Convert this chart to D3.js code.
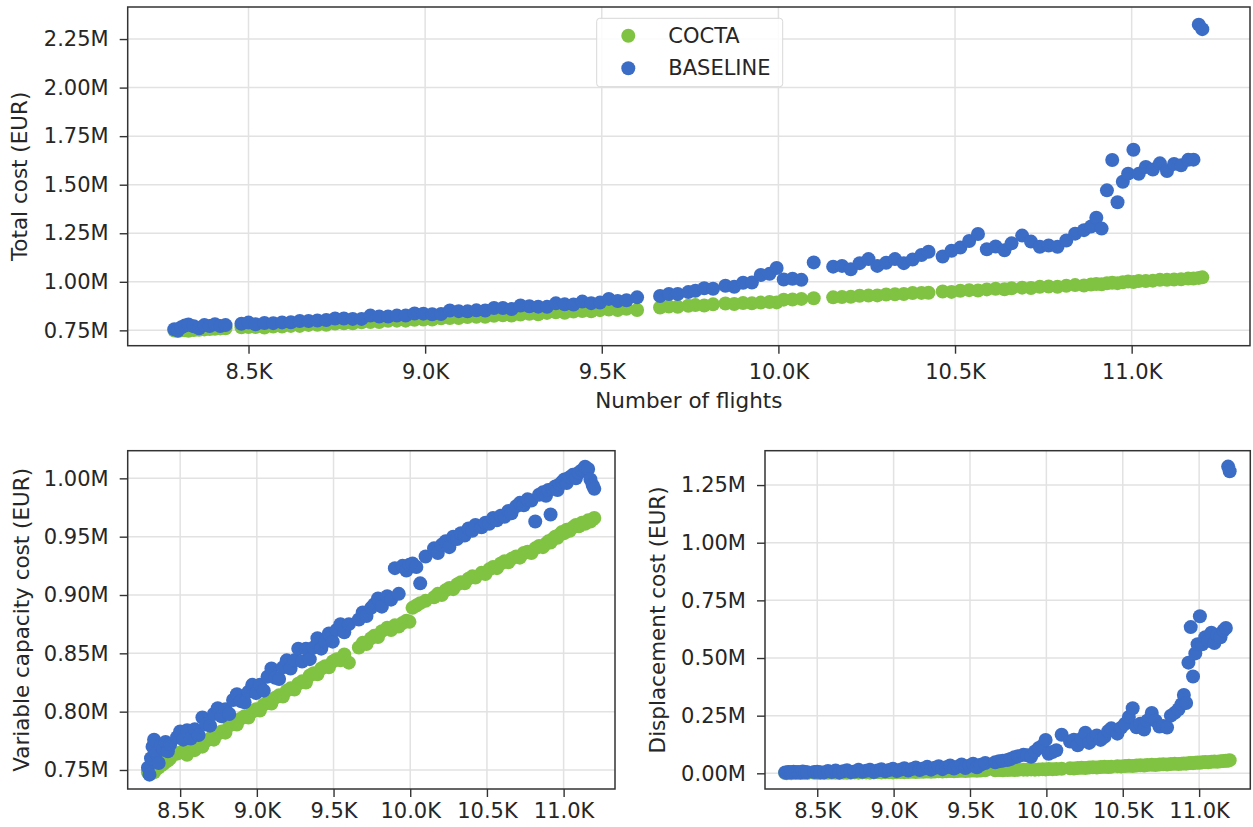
<!DOCTYPE html>
<html>
<head>
<meta charset="utf-8">
<script src="https://cdn.jsdelivr.net/npm/d3@7"></script>
<style>
  body { margin: 0; background: #fff; }
  svg { display: block; font-family: "DejaVu Sans", sans-serif; }
</style>
</head>
<body>
<div id="chart"></div>
<script>
// Number of flights per scenario (shared by both series and all three panels)
const flights = [
  8290, 8300, 8310, 8320, 8330, 8345, 8360, 8375, 8390, 8405, 8420, 8435,
  8480, 8500, 8520,
  8545, 8570, 8595, 8620, 8645, 8670, 8695, 8720, 8745, 8770, 8795, 8820, 8845, 8870, 8895,
  8920, 8945, 8970, 8995, 9020, 9045, 9070, 9095, 9120, 9145, 9170, 9195, 9220, 9245, 9270,
  9295, 9320, 9345, 9370, 9395, 9420, 9445, 9470, 9495, 9520, 9545, 9570, 9600,
  9665, 9690, 9715, 9745,
  9765, 9790, 9815, 9850,
  9875, 9900, 9925, 9950, 9975, 9995,
  10015, 10040, 10065, 10100,
  10155, 10180, 10205, 10230, 10255, 10280, 10305, 10330, 10355, 10380, 10405, 10425,
  10465, 10490, 10515, 10540, 10565, 10590, 10615, 10640, 10660,
  10690, 10715, 10740, 10765, 10790, 10815, 10840, 10865, 10885, 10900, 10915, 10930, 10945, 10960,
  10975, 10990, 11005, 11020, 11040, 11060, 11080, 11100, 11120, 11140, 11160, 11175, 11190, 11200
];

// Costs in million EUR
const coctaTotal = [
  0.749, 0.747, 0.750, 0.751, 0.748, 0.752, 0.753, 0.755, 0.757, 0.758, 0.760, 0.761,
  0.766, 0.767, 0.767,
  0.765, 0.770, 0.770, 0.773, 0.773, 0.778, 0.779, 0.779, 0.785, 0.786, 0.786, 0.792, 0.793, 0.793, 0.799,
  0.800, 0.800, 0.805, 0.806, 0.806, 0.812, 0.813, 0.813, 0.819, 0.820, 0.820, 0.825, 0.828, 0.826, 0.832,
  0.835, 0.833, 0.840, 0.843, 0.841, 0.847, 0.850, 0.848, 0.854, 0.857, 0.855, 0.861, 0.855,
  0.868, 0.873, 0.871, 0.877,
  0.880, 0.878, 0.884, 0.888,
  0.886, 0.891, 0.889, 0.893, 0.896, 0.894,
  0.908, 0.909, 0.912, 0.915,
  0.920, 0.922, 0.923, 0.928, 0.929, 0.930, 0.935, 0.936, 0.937, 0.942, 0.943, 0.944,
  0.950, 0.948, 0.954, 0.957, 0.955, 0.961, 0.964, 0.962, 0.967,
  0.970, 0.968, 0.974, 0.976, 0.974, 0.980, 0.983, 0.981, 0.986, 0.989, 0.987, 0.992, 0.995, 0.993,
  0.998, 1.001, 0.999, 1.004, 1.004, 1.006, 1.010, 1.010, 1.012, 1.013, 1.017, 1.017, 1.020, 1.023
];
const baselineTotal = [
  0.756, 0.749, 0.766, 0.775, 0.780, 0.771, 0.761, 0.777, 0.772, 0.782, 0.772, 0.777,
  0.784, 0.790, 0.781,
  0.788, 0.787, 0.791, 0.792, 0.798, 0.798, 0.801, 0.803, 0.811, 0.811, 0.809, 0.809, 0.826, 0.821, 0.821,
  0.826, 0.826, 0.837, 0.836, 0.833, 0.834, 0.852, 0.849, 0.848, 0.853, 0.852, 0.865, 0.865, 0.860, 0.878,
  0.874, 0.872, 0.871, 0.889, 0.884, 0.883, 0.898, 0.890, 0.893, 0.912, 0.901, 0.905, 0.920,
  0.927, 0.937, 0.937, 0.947,
  0.954, 0.967, 0.964, 0.980,
  0.974, 0.995, 0.996, 1.035, 1.041, 1.071,
  1.012, 1.016, 1.010, 1.100,
  1.078, 1.082, 1.065, 1.096, 1.117, 1.082, 1.098, 1.117, 1.096, 1.115, 1.138, 1.155,
  1.130, 1.160, 1.176, 1.210, 1.246, 1.168, 1.182, 1.162, 1.198,
  1.238, 1.207, 1.180, 1.187, 1.180, 1.213, 1.248, 1.266, 1.285, 1.330, 1.274, 1.471, 1.627, 1.410,
  1.515, 1.557, 1.680, 1.556, 1.591, 1.578, 1.610, 1.570, 1.607, 1.600, 1.628, 1.629, 2.324, 2.301
];

const coctaVar = [
  0.748, 0.747, 0.749, 0.750, 0.748, 0.751, 0.752, 0.754, 0.755, 0.757, 0.758, 0.760,
  0.764, 0.765, 0.766,
  0.763, 0.768, 0.767, 0.771, 0.770, 0.775, 0.777, 0.776, 0.781, 0.783, 0.782, 0.788, 0.790, 0.789, 0.794,
  0.796, 0.795, 0.800, 0.802, 0.801, 0.806, 0.808, 0.807, 0.812, 0.814, 0.813, 0.818, 0.820, 0.819, 0.824,
  0.826, 0.825, 0.831, 0.833, 0.832, 0.837, 0.839, 0.838, 0.843, 0.845, 0.844, 0.849, 0.842,
  0.855, 0.859, 0.858, 0.863,
  0.865, 0.864, 0.869, 0.872,
  0.870, 0.874, 0.873, 0.876, 0.878, 0.877,
  0.889, 0.891, 0.893, 0.895,
  0.898, 0.901, 0.900, 0.904, 0.906, 0.905, 0.909, 0.911, 0.910, 0.914, 0.916, 0.915,
  0.919, 0.918, 0.922, 0.924, 0.923, 0.927, 0.929, 0.928, 0.931,
  0.933, 0.932, 0.936, 0.937, 0.936, 0.940, 0.942, 0.941, 0.944, 0.946, 0.945, 0.948, 0.950, 0.949,
  0.952, 0.954, 0.953, 0.956, 0.955, 0.958, 0.960, 0.959, 0.962, 0.961, 0.964, 0.963, 0.965, 0.966
];
const baselineVar = [
  0.752, 0.746, 0.760, 0.770, 0.776, 0.764, 0.756, 0.771, 0.768, 0.774, 0.766, 0.772,
  0.778, 0.783, 0.776,
  0.784, 0.777, 0.785, 0.780, 0.795, 0.789, 0.788, 0.798, 0.803, 0.796, 0.802, 0.798, 0.810, 0.815, 0.809,
  0.808, 0.817, 0.823, 0.816, 0.823, 0.818, 0.830, 0.837, 0.829, 0.828, 0.838, 0.844, 0.837, 0.844, 0.854,
  0.843, 0.854, 0.845, 0.855, 0.863, 0.854, 0.860, 0.867, 0.860, 0.870, 0.875, 0.868, 0.875,
  0.879, 0.885, 0.882, 0.889,
  0.892, 0.897, 0.890, 0.899,
  0.896, 0.923, 0.901, 0.925, 0.921, 0.926,
  0.927, 0.924, 0.910, 0.933,
  0.940, 0.936, 0.943, 0.946, 0.941, 0.950, 0.948, 0.953, 0.951, 0.957, 0.955, 0.960,
  0.958, 0.962, 0.961, 0.966, 0.964, 0.968, 0.967, 0.972, 0.970,
  0.976, 0.979, 0.977, 0.982, 0.981, 0.963, 0.986, 0.988, 0.985, 0.990, 0.969, 0.991, 0.993, 0.990,
  0.995, 0.997, 0.999, 0.996, 1.001, 1.003, 1.000, 1.005, 1.007, 1.010, 1.008, 0.999, 0.994, 0.991
];

const coctaDisp = [
  0.001, 0.000, 0.001, 0.001, 0.000, 0.001, 0.001, 0.001, 0.002, 0.001, 0.002, 0.001,
  0.002, 0.002, 0.001,
  0.002, 0.002, 0.003, 0.002, 0.003, 0.003, 0.002, 0.003, 0.004, 0.003, 0.004, 0.004, 0.003, 0.004, 0.005,
  0.004, 0.005, 0.005, 0.004, 0.005, 0.006, 0.005, 0.006, 0.007, 0.006, 0.007, 0.007, 0.008, 0.007, 0.008,
  0.009, 0.008, 0.009, 0.010, 0.009, 0.010, 0.011, 0.010, 0.011, 0.012, 0.011, 0.012, 0.013,
  0.013, 0.014, 0.013, 0.014,
  0.015, 0.014, 0.015, 0.016,
  0.016, 0.017, 0.016, 0.017, 0.018, 0.017,
  0.019, 0.018, 0.019, 0.020,
  0.022, 0.021, 0.023, 0.024, 0.023, 0.025, 0.026, 0.025, 0.027, 0.028, 0.027, 0.029,
  0.031, 0.030, 0.032, 0.033, 0.032, 0.034, 0.035, 0.034, 0.036,
  0.037, 0.036, 0.038, 0.039, 0.038, 0.040, 0.041, 0.040, 0.042, 0.043, 0.042, 0.044, 0.045, 0.044,
  0.046, 0.047, 0.046, 0.048, 0.049, 0.048, 0.050, 0.051, 0.050, 0.052, 0.053, 0.054, 0.055, 0.057
];
const baselineDisp = [
  0.004, 0.003, 0.006, 0.005, 0.004, 0.007, 0.005, 0.006, 0.004, 0.008, 0.006, 0.005,
  0.006, 0.007, 0.005,
  0.004, 0.010, 0.006, 0.012, 0.003, 0.009, 0.013, 0.005, 0.008, 0.015, 0.007, 0.011, 0.016, 0.006, 0.012,
  0.018, 0.009, 0.014, 0.020, 0.010, 0.016, 0.022, 0.012, 0.019, 0.025, 0.014, 0.021, 0.028, 0.016, 0.024,
  0.031, 0.018, 0.026, 0.034, 0.021, 0.029, 0.038, 0.023, 0.033, 0.042, 0.026, 0.037, 0.045,
  0.048, 0.052, 0.055, 0.058,
  0.062, 0.070, 0.074, 0.081,
  0.078, 0.072, 0.095, 0.110, 0.120, 0.145,
  0.085, 0.092, 0.100, 0.167,
  0.138, 0.146, 0.122, 0.150, 0.176, 0.132, 0.150, 0.164, 0.145, 0.158, 0.183, 0.195,
  0.172, 0.198, 0.215, 0.244, 0.282, 0.200, 0.215, 0.190, 0.228,
  0.262, 0.228, 0.203, 0.205, 0.199, 0.250, 0.262, 0.278, 0.300, 0.340, 0.305, 0.480, 0.634, 0.420,
  0.520, 0.560, 0.681, 0.560, 0.590, 0.575, 0.610, 0.565, 0.600, 0.590, 0.620, 0.630, 1.330, 1.310
];

const seriesNames = ["COCTA", "BASELINE"];
const seriesColors = ["#80c342", "#3b6cc6"];

const xTicks = [8500, 9000, 9500, 10000, 10500, 11000];
const totalTicks = [0.75, 1.00, 1.25, 1.50, 1.75, 2.00, 2.25];
const varTicks = [0.75, 0.80, 0.85, 0.90, 0.95, 1.00];
const dispTicks = [0.00, 0.25, 0.50, 0.75, 1.00, 1.25];

const textColor = "#262626";
const font = "'DejaVu Sans', sans-serif";

const svg = d3.select("#chart").append("svg")
    .attr("width", 1253)
    .attr("height", 827);

const panels = [
    { left: 127.7, top: 7, right: 1250, bottom: 345.7, yDomain: [0.671, 2.415], yTicks: totalTicks,
      yLabel: "Total cost (EUR)", labelX: 27, xPad: 10.5, series: [coctaTotal, baselineTotal],
      xLabel: "Number of flights", legend: true },
    { left: 127.7, top: 450.7, right: 615, bottom: 789, yDomain: [0.7337, 1.0237], yTicks: varTicks,
      yLabel: "Variable capacity cost (EUR)", labelX: 28.5, xPad: 6, series: [coctaVar, baselineVar] },
    { left: 765, top: 450.7, right: 1250.3, bottom: 789, yDomain: [-0.068, 1.399], yTicks: dispTicks,
      yLabel: "Displacement cost (EUR)", labelX: 665, xPad: 6, series: [coctaDisp, baselineDisp] }
];

panels.forEach(drawPanel);

function styleAxis(ax) {
    ax.select(".domain").remove();
    ax.attr("font-family", font).attr("font-size", 21);
    ax.selectAll(".tick line").attr("stroke", "#333").attr("stroke-width", 1.4);
    ax.selectAll(".tick text").attr("fill", textColor);
}

function drawPanel(p) {
    const x = d3.scaleLinear().domain([8158, 11335]).range([p.left, p.right]);
    const y = d3.scaleLinear().domain(p.yDomain).range([p.bottom, p.top]);
    const g = svg.append("g");

    // grid
    g.append("g").selectAll("line")
        .data(xTicks)
        .enter().append("line")
        .attr("x1", d => x(d)).attr("x2", d => x(d))
        .attr("y1", p.top).attr("y2", p.bottom)
        .attr("stroke", "#e2e2e2").attr("stroke-width", 1.5);
    g.append("g").selectAll("line")
        .data(p.yTicks)
        .enter().append("line")
        .attr("x1", p.left).attr("x2", p.right)
        .attr("y1", d => y(d)).attr("y2", d => y(d))
        .attr("stroke", "#e2e2e2").attr("stroke-width", 1.5);

    // points, baseline drawn over cocta
    p.series.forEach((vals, i) => {
        g.append("g").selectAll("circle")
            .data(vals)
            .enter().append("circle")
            .attr("cx", (d, j) => x(flights[j]))
            .attr("cy", d => y(d))
            .attr("r", 7)
            .attr("fill", seriesColors[i]);
    });

    g.append("rect")
        .attr("x", p.left).attr("y", p.top)
        .attr("width", p.right - p.left).attr("height", p.bottom - p.top)
        .attr("fill", "none").attr("stroke", "#333").attr("stroke-width", 1.5);

    g.append("g")
        .attr("transform", `translate(0,${p.bottom})`)
        .call(d3.axisBottom(x).tickValues(xTicks).tickSize(8).tickSizeOuter(0)
            .tickPadding(p.xPad).tickFormat(d => (d / 1000).toFixed(1) + "K"))
        .call(styleAxis);

    g.append("g")
        .attr("transform", `translate(${p.left},0)`)
        .call(d3.axisLeft(y).tickValues(p.yTicks).tickSize(8).tickSizeOuter(0)
            .tickPadding(11).tickFormat(d => d.toFixed(2) + "M"))
        .call(styleAxis);

    g.append("text")
        .attr("transform", `translate(${p.labelX},${(p.top + p.bottom) / 2}) rotate(-90)`)
        .attr("text-anchor", "middle")
        .attr("font-family", font).attr("font-size", 21.5)
        .attr("fill", textColor)
        .text(p.yLabel);

    if (p.xLabel) {
        g.append("text")
            .attr("x", (p.left + p.right) / 2).attr("y", 408)
            .attr("text-anchor", "middle")
            .attr("font-family", font).attr("font-size", 21.5)
            .attr("fill", textColor)
            .text(p.xLabel);
    }

    if (p.legend) {
        const lg = g.append("g");
        lg.append("rect")
            .attr("x", 596.7).attr("y", 18.3).attr("width", 186).attr("height", 68.4)
            .attr("rx", 3).attr("fill", "#fff").attr("fill-opacity", 0.85)
            .attr("stroke", "#d8d8d8").attr("stroke-width", 1);
        seriesNames.forEach((name, i) => {
            const cy = 35.7 + i * 32.6;
            lg.append("circle").attr("cx", 628.3).attr("cy", cy).attr("r", 7)
                .attr("fill", seriesColors[i]);
            lg.append("text").attr("x", 668.3).attr("y", cy)
                .attr("dominant-baseline", "central")
                .attr("font-family", font).attr("font-size", 21)
                .attr("fill", textColor)
                .text(name);
        });
    }
}
</script>
</body>
</html>
